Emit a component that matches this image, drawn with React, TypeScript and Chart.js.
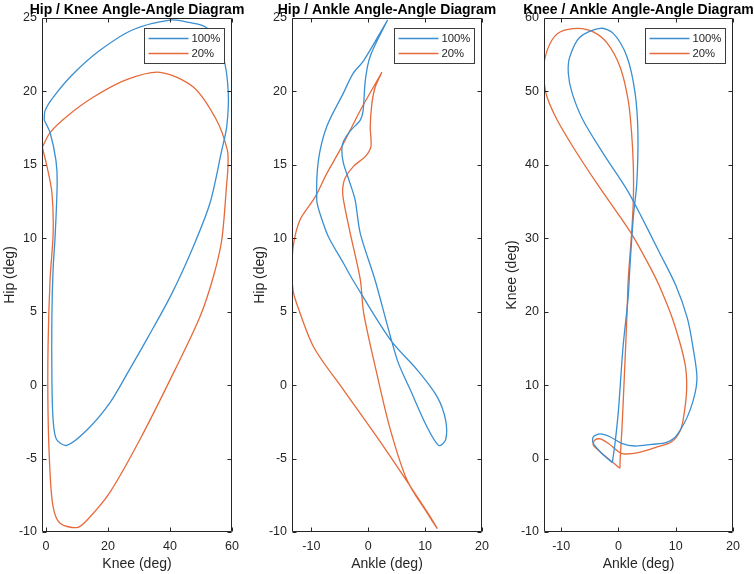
import React, { useEffect, useRef } from "react";
import { Chart, registerables } from "chart.js";

Chart.register(...registerables);

const W = 754;
const H = 574;
const FONT = '"Liberation Sans", Arial, Helvetica, sans-serif';
const BLUE = "#3a8fd2";
const ORANGE = "#e66a3a";
const AXIS = "#262626";

const seriesLabels = ["100%", "20%"];

// Panel 1: Hip / Knee
const hkKnee100 = [-0.6, -0.3, 2.3, 8.8, 17.4, 28, 40, 46, 52, 57.2, 58.8, 58.3, 56.7, 52.9, 47.5, 40.5, 33, 26.5, 20.6, 13.2, 6.7, 3.4, 2.3, 1.9, 1.9, 2.3, 2.9, 3.6, 3.2, 1.3, -0.6];
const hkHip100 = [18.05, 18.7, 19.6, 21.2, 22.8, 24.2, 24.86, 24.7, 24.3, 22.3, 19.9, 17.6, 16, 12.4, 9.43, 6.2, 3.3, 0.9, -1.2, -3.05, -4.1, -3.7, -2.4, 0.35, 4.9, 8, 10, 13.8, 15.3, 17.2, 18.05];
const hkKnee20 = [-1.2, 1.3, 6.7, 15.2, 26, 36.8, 47.5, 55, 58.5, 58.7, 58.3, 56.7, 54, 49.7, 41.6, 30.3, 20.6, 13.2, 10, 4.5, 2.3, 1.3, 0.65, 0.65, 1.3, 2.3, 1.9, 0.3, -1.2];
const hkHip20 = [16.2, 17.2, 18.3, 19.6, 20.8, 21.3, 20.3, 18.05, 16, 14.9, 13.75, 9.9, 7.4, 4.67, 1.04, -3.7, -7.3, -9.2, -9.7, -9.4, -8.3, -6, -1.9, 2.6, 7.2, 10.4, 13.1, 14.9, 16.2];

// Panel 2: Hip / Ankle
const haAnkle100 = [3.4, -0.8, -2.7, -4.35, -7.3, -8.76, -9.05, -8.5, -7, -4.35, -2.7, 3.9, 8.6, 12.1, 13.6, 13.6, 12.4, 10.3, 7.4, 5.1, 1.2, -1.4, -2.3, -3.2, -4.35, -4.64, -4.35, -3.2, -1.4, -0.9, -0.5, 0.35, 3.4];
const haHip100 = [24.86, 22.1, 21.2, 19.9, 17.6, 15.3, 12.6, 11.7, 10.1, 8.3, 7.16, 3.08, 1.04, -0.78, -2.37, -3.73, -4.11, -2.82, -0.32, 1.72, 7.16, 10.34, 12.6, 13.75, 15.1, 16.0, 16.6, 17.3, 18.05, 18.7, 20.8, 22.4, 24.86];
const haAnkle20 = [2.4, -1.4, -4.64, -7.3, -9.35, -12, -13.2, -13.4, -13.2, -12.6, -9.6, -4.35, 2.7, 9.75, 12.1, 10.35, 6.8, 3.9, 1.5, -0.8, -1.4, -3.2, -4.35, -4.5, -4.06, -2.6, -0.53, 0.47, 0.35, 0.65, 1.23, 2.4];
const haHip20 = [21.3, 18.7, 16.24, 14.4, 12.8, 11.25, 9.43, 7.6, 6.4, 5.58, 2.6, -0.32, -4.18, -8.27, -9.74, -8.7, -6.45, -3.05, 0.8, 4.9, 7.2, 10.4, 12.6, 13.3, 14.1, 14.9, 15.56, 16.24, 17.6, 19.2, 20.3, 21.3];

// Panel 3: Knee / Ankle
const kaAnkle100 = [-1.07, -0.6, 0, 0.8, 1.7, 2, 2.6, 3.2, 3.4, 2.9, 1.5, -0.9, -3.2, -6.7, -8.5, -8.76, -8.1, -6.2, -2.7, 1.5, 3.7, 7.2, 10, 12, 13, 13.7, 12.5, 10.2, 8.4, 5.8, 2.9, 0.55, -1.5, -3.2, -4.4, -4.4, -2.9, -1.07];
const kaKnee100 = [-0.55, 2.08, 6.6, 15.2, 22, 26.1, 32.9, 37.5, 44.3, 49.8, 54.7, 57.9, 58.6, 57.4, 54.7, 52.5, 49.8, 46.1, 41.6, 36.6, 33.4, 28, 23.6, 19.2, 15.2, 10.7, 6.6, 3.2, 2.2, 1.94, 1.71, 2.08, 2.97, 3.35, 2.97, 2.08, 0.7, -0.55];
const kaAnkle20 = [0.26, 0.3, 0.6, 1, 1.5, 1.7, 2.3, 2.6, 2.6, 2.3, 1.7, 0.3, -2, -4.4, -7, -10.2, -11.9, -13, -13, -12.5, -10.7, -7.9, -3.8, 0.3, 2.6, 5.5, 7.2, 9.5, 11.6, 11.9, 11.3, 10.7, 9.3, 6.9, 3.46, 0.84, 0, -1.8, -3.2, -4.1, -4.4, -3.2, -1.5, 0.26];
const kaKnee20 = [-1.33, 0, 3.9, 10.7, 19.8, 24.3, 30.7, 35.2, 39.7, 44.3, 48.8, 53.3, 56.6, 58.1, 58.6, 58.1, 56.6, 53.9, 51.6, 49.3, 46.1, 42.4, 37.5, 32.9, 30.2, 26.1, 23.4, 18.9, 13, 9.3, 5.3, 3.66, 2.3, 1.62, 0.8, 0.63, 0.94, 2.08, 2.67, 2.53, 1.85, 0.94, -0.2, -1.33];

// Tick labels
const kneeTicksX = [0, 20, 40, 60];
const hipTicks = [-10, -5, 0, 5, 10, 15, 20, 25];
const ankleTicks = [-10, 0, 10, 20];
const kneeTicksY = [-10, 0, 10, 20, 30, 40, 50, 60];

type PanelDef = {
  title: string;
  xLabel: string;
  yLabel: string;
  xMin: number;
  xMax: number;
  yMin: number;
  yMax: number;
  xTicks: number[];
  yTicks: number[];
  areaLeft: number;
  areaRight: number;
  series: [number[], number[]][];
};

const panels: PanelDef[] = [
  {
    title: "Hip / Knee Angle-Angle Diagram",
    xLabel: "Knee (deg)",
    yLabel: "Hip (deg)",
    xMin: -1.3, xMax: 60, yMin: -10, yMax: 25,
    xTicks: kneeTicksX, yTicks: hipTicks,
    areaLeft: 42, areaRight: 232,
    series: [[hkKnee100, hkHip100], [hkKnee20, hkHip20]],
  },
  {
    title: "Hip / Ankle Angle-Angle Diagram",
    xLabel: "Ankle (deg)",
    yLabel: "Hip (deg)",
    xMin: -13.4, xMax: 20, yMin: -10, yMax: 25,
    xTicks: ankleTicks, yTicks: hipTicks,
    areaLeft: 292, areaRight: 482,
    series: [[haAnkle100, haHip100], [haAnkle20, haHip20]],
  },
  {
    title: "Knee / Ankle Angle-Angle Diagram",
    xLabel: "Ankle (deg)",
    yLabel: "Knee (deg)",
    xMin: -13, xMax: 20, yMin: -10, yMax: 60,
    xTicks: ankleTicks, yTicks: kneeTicksY,
    areaLeft: 544, areaRight: 733,
    series: [[kaAnkle100, kaKnee100], [kaAnkle20, kaKnee20]],
  },
];

const COLORS = [BLUE, ORANGE];

function makeFramePlugin(title: string) {
  return {
    id: "frameDecor",
    afterDatasetsDraw(chart: any) {
      const { ctx, chartArea } = chart;
      const { left, right, top, bottom } = chartArea;
      const xs = chart.scales.x;
      const ys = chart.scales.y;
      const L = Math.round(left) + 0.5;
      const R = Math.round(right) - 0.5;
      const T = Math.round(top) + 0.5;
      const B = Math.round(bottom) - 0.5;
      ctx.save();
      ctx.strokeStyle = AXIS;
      ctx.lineWidth = 1;
      ctx.beginPath();
      ctx.rect(L, T, R - L, B - T);
      const tl = 4;
      xs.ticks.forEach((t: any) => {
        const px = Math.round(xs.getPixelForValue(t.value)) + 0.5;
        ctx.moveTo(px, B);
        ctx.lineTo(px, B - tl);
        ctx.moveTo(px, T);
        ctx.lineTo(px, T + tl);
      });
      ys.ticks.forEach((t: any) => {
        const py = Math.round(ys.getPixelForValue(t.value)) + 0.5;
        ctx.moveTo(L, py);
        ctx.lineTo(L + tl, py);
        ctx.moveTo(R, py);
        ctx.lineTo(R - tl, py);
      });
      ctx.stroke();

      // title
      ctx.fillStyle = "#000";
      ctx.font = `bold 14px ${FONT}`;
      ctx.textAlign = "center";
      ctx.textBaseline = "alphabetic";
      ctx.fillText(title, (left + right) / 2, 13.5);

      // legend
      const bw = 80;
      const bh = 35;
      const bx = Math.round(right) - 8 - bw + 0.5;
      const by = Math.round(top) + 10 + 0.5;
      ctx.fillStyle = "#fff";
      ctx.fillRect(bx, by, bw, bh);
      ctx.strokeStyle = "#3c3c3c";
      ctx.lineWidth = 1;
      ctx.strokeRect(bx, by, bw, bh);
      ctx.font = `11.3px ${FONT}`;
      ctx.textAlign = "left";
      ctx.textBaseline = "middle";
      chart.data.datasets.forEach((ds: any, i: number) => {
        const ry = by + 10 + i * 15;
        ctx.strokeStyle = ds.borderColor;
        ctx.lineWidth = 1.3;
        ctx.beginPath();
        ctx.moveTo(bx + 4, ry);
        ctx.lineTo(bx + 44, ry);
        ctx.stroke();
        ctx.fillStyle = AXIS;
        ctx.fillText(ds.label, bx + 47, ry + 0.5);
      });
      ctx.restore();
    },
  };
}

function Panel({ def }: { def: PanelDef }) {
  const ref = useRef<HTMLCanvasElement | null>(null);
  useEffect(() => {
    const canvas = ref.current;
    if (!canvas) return;
    const datasets = def.series.map(([xs, ys], i) => ({
      label: seriesLabels[i],
      data: xs.map((x, k) => ({ x, y: ys[k] })),
      borderColor: COLORS[i],
      backgroundColor: COLORS[i],
      borderWidth: 1.3,
      pointRadius: 0,
      showLine: true,
      tension: 0.3,
      fill: false,
    }));
    const tickFont = { family: FONT, size: 12.5 };
    const titleFont = { family: FONT, size: 14 };
    const chart = new Chart(canvas, {
      type: "scatter",
      data: { datasets },
      options: {
        responsive: false,
        animation: false,
        devicePixelRatio: 1,
        layout: {
          padding: { left: def.areaLeft - 42, right: W - def.areaRight, top: 18, bottom: 0 },
        },
        plugins: {
          legend: { display: false },
          tooltip: { enabled: false },
          title: { display: false },
        },
        scales: {
          x: {
            type: "linear",
            min: def.xMin,
            max: def.xMax,
            grid: { display: false, drawTicks: false },
            border: { display: false },
            afterBuildTicks: (s: any) => {
              s.ticks = def.xTicks.map((v) => ({ value: v }));
            },
            afterFit: (s: any) => {
              s.height = 42;
              s.paddingLeft = 0;
              s.paddingRight = 0;
            },
            ticks: {
              color: AXIS,
              font: tickFont,
              padding: 7,
              maxRotation: 0,
              autoSkip: false,
            },
            title: {
              display: true,
              text: def.xLabel,
              color: AXIS,
              font: titleFont,
              padding: { top: 0, bottom: 1.5 },
            },
          },
          y: {
            type: "linear",
            min: def.yMin,
            max: def.yMax,
            grid: { display: false, drawTicks: false },
            border: { display: false },
            afterBuildTicks: (s: any) => {
              s.ticks = def.yTicks.map((v) => ({ value: v }));
            },
            afterFit: (s: any) => {
              s.width = 42;
              s.paddingTop = 0;
              s.paddingBottom = 0;
            },
            ticks: {
              color: AXIS,
              font: tickFont,
              padding: 5,
              autoSkip: false,
            },
            title: {
              display: true,
              text: def.yLabel,
              color: AXIS,
              font: titleFont,
              padding: { top: 1.5, bottom: 0 },
            },
          },
        },
      },
      plugins: [makeFramePlugin(def.title)],
    } as any);
    return () => chart.destroy();
  }, [def]);
  return (
    <canvas
      ref={ref}
      width={W}
      height={H}
      style={{ position: "absolute", left: 0, top: 0, width: W, height: H, display: "block" }}
    />
  );
}

export default function App() {
  return (
    <div style={{ position: "absolute", left: 0, top: 0, width: W, height: H, background: "#fff" }}>
      {panels.map((p, i) => (
        <Panel key={i} def={p} />
      ))}
    </div>
  );
}
